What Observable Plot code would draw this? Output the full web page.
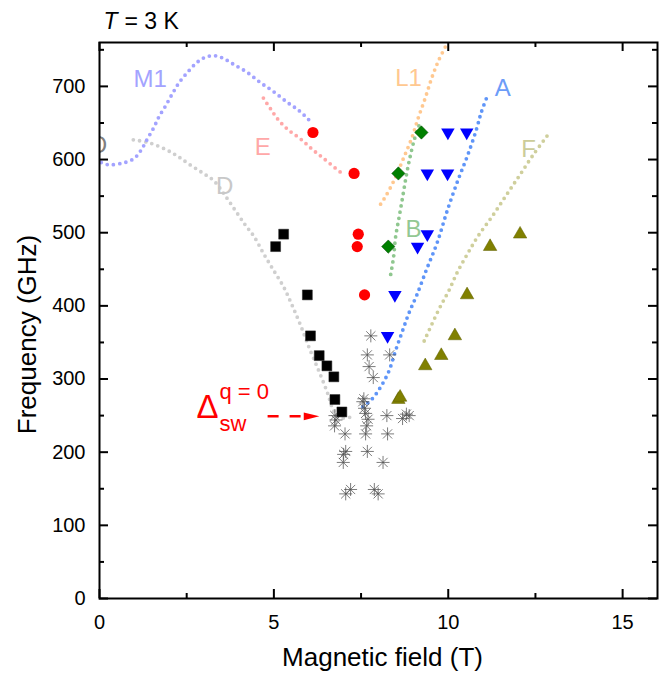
<!DOCTYPE html>
<html><head><meta charset="utf-8">
<script src="https://cdn.jsdelivr.net/npm/d3@7"></script>
<script src="https://cdn.jsdelivr.net/npm/@observablehq/plot@0.6"></script>
<style>body{margin:0;background:#fff;} #chart{width:665px;height:675px;}</style>
</head><body><div id="chart"></div>
<script>
// ---- data (field in T, frequency in GHz) ----
const squareX = [5.28, 5.05, 5.96, 6.05, 6.30, 6.52, 6.72, 6.75, 6.95];
const squareY = [498, 481, 415, 359, 332, 318, 303, 272, 255];
const circleX = [6.12, 7.30, 7.42, 7.39, 7.60];
const circleY = [637, 581, 498, 481, 415];
const diamondX = [9.23, 8.57, 8.28];
const diamondY = [637, 581, 481];
const downTriX = [9.99, 10.53, 9.40, 9.98, 9.40, 9.12, 8.47, 8.26];
const downTriY = [637, 637, 581, 581, 498, 481, 415, 359];
const upTriX = [12.06, 11.20, 10.54, 10.19, 9.80, 9.34, 8.57, 8.62];
const upTriY = [498, 481, 415, 359, 332, 318, 272, 275];
const starX = [7.78, 7.68, 8.32, 7.73, 7.85, 7.58, 7.55, 6.75, 6.74, 6.78, 7.63, 7.70, 7.66, 7.60, 8.24, 8.69, 8.88, 8.80, 7.04, 7.63, 8.26, 7.06, 7.00, 7.68, 6.99, 8.13, 7.06, 7.20, 7.88, 7.99];
const starY = [359, 333, 333, 317, 302, 273, 269, 250, 236, 244, 253, 245, 236, 260, 250, 246, 250, 252, 225, 225, 225, 201, 197, 201, 186, 186, 143, 149, 149, 143];

const m1X = [0.05, 0.24, 0.65, 0.98, 1.18, 1.37, 1.56, 1.70, 1.89, 2.09, 2.28, 2.52, 2.80, 3.04, 3.28, 3.52, 3.85, 4.24, 4.62, 4.96, 5.39, 5.72, 6.03];
const m1Y = [596, 593, 595, 601, 612, 628, 644, 658, 673, 690, 705, 719, 733, 740, 742, 739, 730, 719, 705, 694, 678, 667, 653];
const eX = [4.70, 4.91, 5.15, 5.43, 5.77, 6.10, 6.44, 6.82, 6.90];
const eY = [684, 669, 653, 640, 628, 614, 601, 586, 583];
const dX = [0.97, 1.42, 1.89, 2.23, 2.56, 2.95, 3.28, 3.57, 3.90, 4.19, 4.43, 4.71, 5.00, 5.29, 5.53, 5.77, 6.01, 6.29, 6.53, 6.71, 6.88, 7.20];
const dY = [627, 623, 614, 605, 594, 582, 571, 553, 530, 510, 495, 471, 448, 425, 400, 373, 343, 311, 282, 257, 247, 248];
const aX = [7.55, 7.82, 8.06, 8.30, 8.49, 8.69, 8.88, 9.10, 9.38, 9.68, 9.97, 10.28, 10.55, 10.80, 10.95, 11.13];
const aY = [262, 273, 289, 311, 339, 366, 391, 415, 450, 486, 530, 572, 605, 640, 665, 688];
const l1X = [8.06, 8.22, 8.47, 8.71, 8.95, 9.14, 9.34, 9.53, 9.72, 9.96];
const l1Y = [539, 551, 574, 601, 629, 657, 684, 712, 735, 758];
const bX = [8.35, 8.43, 8.49, 8.59, 8.69, 8.79, 8.88, 9.02, 9.19];
const bY = [443, 466, 494, 521, 548, 576, 598, 626, 650];
const fX = [9.31, 9.74, 10.02, 10.26, 10.55, 10.85, 11.27, 11.66, 12.04, 12.43, 12.86];
const fY = [352, 396, 421, 446, 471, 495, 523, 551, 578, 606, 634];

const curveNames = ["M1", "E", "D", "L1", "A", "B", "F"];
const curveLabelX = [1.45, 4.68, 3.59, 8.86, 11.56, 9.00, 12.30];
const curveLabelY = [710, 617, 564, 711, 698, 504, 614];

const xTicks = [0, 5, 10, 15];
const xMinor = [2.5, 7.5, 12.5];
const yTicks = [0, 100, 200, 300, 400, 500, 600, 700];
const yMinor = [50, 150, 250, 350, 450, 550, 650, 750];

// annotation (Δ_sw^{q=0} with dashed arrow)
const arrowX = [4.82, 5.80];
const arrowHeadX = 6.08;
const arrowY = 249;

// ---- helpers ----
const pts = (xs, ys) => xs.map((x, i) => ({x, y: ys[i]}));
const W = 665, H = 675, mL = 99, mR = 8, mT = 42, mB = 77;
const fw = W - mL - mR, fh = H - mT - mB;

const asterisk8 = {
  draw(ctx, size) {
    const r = Math.sqrt(size / Math.PI), d = r * Math.SQRT1_2;
    ctx.moveTo(-r, 0); ctx.lineTo(r, 0);
    ctx.moveTo(0, -r); ctx.lineTo(0, r);
    ctx.moveTo(-d, -d); ctx.lineTo(d, d);
    ctx.moveTo(-d, d); ctx.lineTo(d, -d);
  }
};
const arrowHead = {
  draw(ctx, size) {
    const s = Math.sqrt(size / Math.PI);
    ctx.moveTo(s * 1.2, 0); ctx.lineTo(-s * 1.2, -s * 0.6); ctx.lineTo(-s * 1.2, s * 0.6); ctx.closePath();
  }
};

const dotted = (xs, ys, color) => Plot.line(pts(xs, ys), {
  x: "x", y: "y", stroke: color, strokeWidth: 3.8, strokeDasharray: "0,6.3",
  strokeLinecap: "round", curve: "catmull-rom", clip: true
});
const labelColors = ["#a3a3ff", "#ffa8a8", "#c8c8c8", "#ffc890", "#6c9cf8", "#93c893", "#cccc99"];

const chart = Plot.plot({
  width: W, height: H,
  marginLeft: mL, marginRight: mR, marginTop: mT, marginBottom: mB,
  x: {domain: [0, 16]},
  y: {domain: [0, 760]},
  style: {fontFamily: "'Liberation Sans', Arial, sans-serif", fontSize: "20px", color: "black", background: "white", overflow: "visible"},
  marks: [
    // curves
    dotted(dX, dY, "#cfcfcf"),
    dotted(m1X, m1Y, "#a3a3ff"),
    dotted(eX, eY, "#ffa8a8"),
    dotted(l1X, l1Y, "#ffc890"),
    dotted(bX, bY, "#8fc78f"),
    dotted(fX, fY, "#cfcf9c"),
    dotted(aX, aY, "#5f95f8"),
    // curve labels
    Plot.text(curveNames, {x: curveLabelX, y: curveLabelY, text: d => d, fill: labelColors, fontSize: 24, lineAnchor: "middle"}),
    Plot.text(["O"], {x: [-0.05], y: [620], fill: "#808080", fontSize: 24, lineAnchor: "middle", clip: true}),
    // data points
    Plot.dot(pts(starX, starY), {x: "x", y: "y", symbol: asterisk8, r: 6.5, fill: "none", stroke: "#505050", strokeOpacity: 0.75, strokeWidth: 1}),
    Plot.dot(pts(squareX, squareY), {x: "x", y: "y", symbol: "square", r: 5.6, fill: "black", stroke: "#222", strokeWidth: 0.5}),
    Plot.dot(pts(circleX, circleY), {x: "x", y: "y", symbol: "circle", r: 5.6, fill: "#ff0000", stroke: "none"}),
    Plot.dot(pts(diamondX, diamondY), {x: "x", y: "y", symbol: "diamond2", r: 6, fill: "#008000", stroke: "#004000", strokeWidth: 0.5}),
    Plot.dot(pts(downTriX, downTriY), {x: "x", y: "y", symbol: "triangle", rotate: 180, r: 5, fill: "#0000ff", stroke: "none"}),
    Plot.dot(pts(upTriX, upTriY), {x: "x", y: "y", symbol: "triangle", r: 5, fill: "#808000", stroke: "#606000", strokeWidth: 0.5}),
    // annotation
    Plot.link([0], {x1: arrowX[0], x2: arrowX[1], y1: arrowY, y2: arrowY, stroke: "#ff0000", strokeWidth: 2.5, strokeDasharray: "11,11"}),
    Plot.dot([0], {x: arrowHeadX, y: arrowY, symbol: arrowHead, r: 6.5, fill: "#ff0000", stroke: "none"}),
    Plot.text(["Δ"], {x: [3.10], y: [261], fill: "#ff0000", fontSize: 33, lineAnchor: "middle"}),
    Plot.text(["q = 0"], {x: [3.44], y: [283], fill: "#ff0000", fontSize: 22, textAnchor: "start", lineAnchor: "middle"}),
    Plot.text(["sw"], {x: [3.44], y: [239], fill: "#ff0000", fontSize: 22, textAnchor: "start", lineAnchor: "middle"}),
    // frame and inward ticks
    Plot.frame({stroke: "black", strokeWidth: 2}),
    Plot.tickX(xTicks, {insetTop: fh - 9, strokeWidth: 2}),
    Plot.tickX(xMinor, {insetTop: fh - 5, strokeWidth: 2}),
    Plot.tickX(xTicks, {insetBottom: fh - 9, strokeWidth: 2}),
    Plot.tickX(xMinor, {insetBottom: fh - 5, strokeWidth: 2}),
    Plot.tickY(yTicks, {insetRight: fw - 9, strokeWidth: 2}),
    Plot.tickY(yMinor, {insetRight: fw - 5, strokeWidth: 2}),
    Plot.tickY(yTicks, {insetLeft: fw - 9, strokeWidth: 2}),
    Plot.tickY(yMinor, {insetLeft: fw - 5, strokeWidth: 2}),
    // axes labels
    Plot.axisX({ticks: xTicks, tickSize: 0, tickPadding: 16, fontSize: 20, label: null}),
    Plot.axisY({ticks: yTicks, tickSize: 0, tickPadding: 14, fontSize: 20, label: null}),
    Plot.text(["Magnetic field (T)"], {frameAnchor: "bottom", dx: 4, dy: 59, fontSize: 26, textAnchor: "middle", lineAnchor: "middle"}),
    Plot.text(["Frequency (GHz)"], {frameAnchor: "left", dx: -72, dy: 14, rotate: -90, fontSize: 26, textAnchor: "middle", lineAnchor: "middle"}),
    // title
    Plot.text(["T"], {frameAnchor: "top-left", dx: 4, dy: -21, fontSize: 23, fontStyle: "italic", textAnchor: "start", lineAnchor: "middle"}),
    Plot.text(["= 3 K"], {frameAnchor: "top-left", dx: 25, dy: -21, fontSize: 23, textAnchor: "start", lineAnchor: "middle"})
  ]
});
document.getElementById("chart").appendChild(chart);
</script>
</body></html>
